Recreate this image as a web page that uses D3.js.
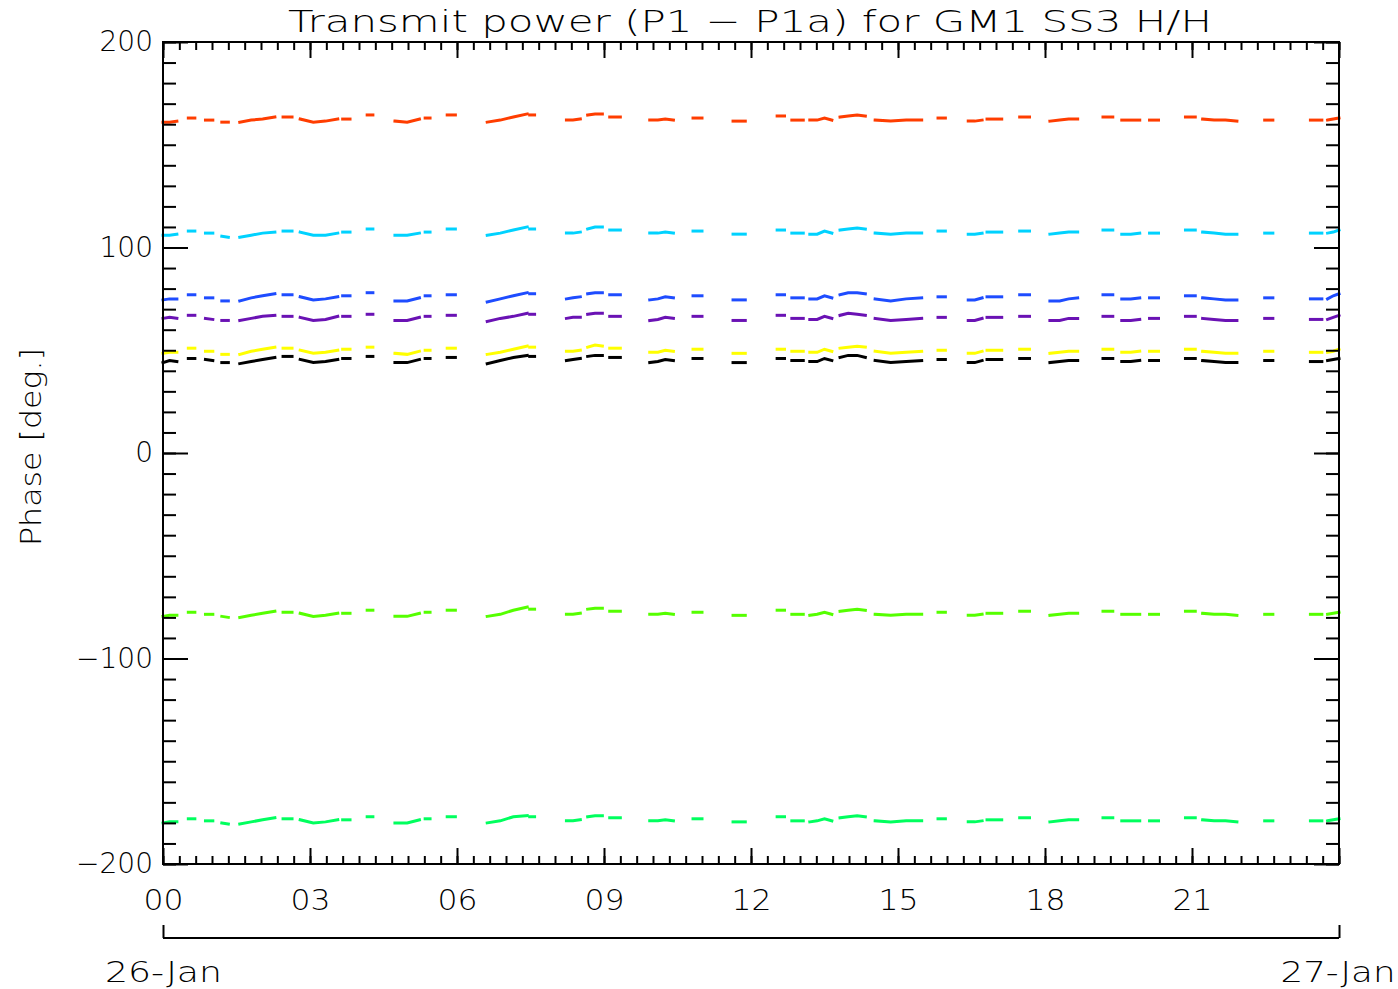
<!DOCTYPE html>
<html>
<head>
<meta charset="utf-8">
<script src="https://cdn.jsdelivr.net/npm/d3@7"></script>
<style>
  body { margin: 0; background: #fff; }
  text { font-family: "DejaVu Sans", sans-serif; fill: #000; }
</style>
</head>
<body>
<svg id="chart"></svg>
<script>
// ---- data ----
const chartTitle = "Transmit power (P1 \u2212 P1a) for GM1 SS3 H/H";
const yTitle = "Phase [deg.]";
const hourTicks = [0, 180, 360, 540, 720, 900, 1080, 1260];
const hourLabels = ["00", "03", "06", "09", "12", "15", "18", "21"];
const phaseTicks = [-200, -100, 0, 100, 200];
const phaseLabels = ["\u2212200", "\u2212100", "0", "100", "200"];
const dayLabels = ["26-Jan", "27-Jan"];

// minutes after 00:00, grouped in the stretches that have data
const sampleMinutes = [[0,8,17],[31,39],[52,61],[72,80],[94,108,122,137],[147,158],[168,184,199,214],[220,229],[250,257],[284,299,314],[321,327],[348,358],[397,413,429,446],[449,455],[494,502,511],[520,529,538],[547,560],[596,606,615,625],[649,660],[698,713],[752,761],[770,784],[792,801,810,819],[829,839,850,860],[872,891,910,929],[949,958],[986,994,1003],[1009,1018,1027],[1049,1061],[1086,1098,1109,1120],[1151,1163],[1174,1185,1196],[1208,1219],[1252,1264],[1273,1287,1301,1315],[1349,1359],[1405,1419],[1426,1433,1440]];

const redPhase = [[161,161,161.5],[163,163],[162,162],[161,161],[161,162,162.5,163.5],[163.5,163.5],[162.5,161,161.5,162.5],[162.5,162.5],[164.5,164.5],[161.5,161,162.5],[163,163],[164.5,164.5],[161,162,163.5,165],[164.5,164.5],[162,162,162.5],[164.5,165,165],[163.5,163.5],[162,162,162.5,162],[163,163],[161.5,161.5],[164,164],[162,162],[162,162,163,162],[163.5,164,164.5,164],[162,161.5,162,162],[163,163],[161.5,161.5,162],[162.5,162.5,162.5],[163.5,163.5],[161.5,162,162.5,162.5],[163.5,163.5],[162,162,162],[162,162],[163.5,163.5],[162.5,162,162,161.5],[162,162],[162,162],[162,162.5,163]];
const cyanPhase = [[106,106,106.5],[108,108],[107,107],[105.5,105],[105,106,107,107.5],[108,108],[107.5,106,106,107],[107.5,107.5],[109,109],[106,106,107],[107.5,107.5],[109,109],[106,107,108.5,110],[109,109],[107,107,107.5],[109,110,110],[108.5,108.5],[107,107,107.5,107],[108,108],[106.5,106.5],[108.5,108.5],[107,107],[106.5,106.5,108,107],[108.5,109,109.5,109],[107,106.5,107,107],[108,108],[106.5,106.5,107],[107.5,107.5,107.5],[108,108],[106.5,107,107.5,107.5],[108.5,108.5],[106.5,106.5,107],[107,107],[108.5,108.5],[107.5,107,106.5,106.5],[107,107],[107,107],[107,107.5,108.5]];
const bluePhase = [[74.5,75,75],[77,77],[75.5,75.5],[74,74],[74,75.5,76.5,77.5],[77,77],[76,74.5,75,76],[76.5,76.5],[78,78],[74,74,75.5],[76.5,76.5],[77,77],[73.5,75,76.5,78],[77.5,77.5],[75,75.5,76],[77.5,78,78],[77,77],[74.5,75,76,75.5],[76.5,76.5],[74.5,74.5],[77,77],[75.5,75.5],[75,75,76.5,75.5],[77,78,78,77.5],[75,74,75,75.5],[76,76],[74.5,74.5,75.5],[76,76,76],[77,77],[74,74,75,75.5],[77,77],[75,75,75.5],[75.5,75.5],[76.5,76.5],[75.5,75,74.5,74.5],[75.5,75.5],[75,75],[75,76.5,77.5]];
const purplePhase = [[65.5,66,65.5],[67,67],[65.5,65],[64.5,64.5],[64.5,65.5,66.5,67],[66.5,66.5],[66,64.5,65,66.5],[66.5,66.5],[67.5,67.5],[64.5,64.5,66],[66.5,66.5],[67,67],[64,65.5,66.5,68],[67.5,67.5],[65.5,66,66],[67.5,68,68],[66.5,66.5],[64.5,65,66,65.5],[66.5,66.5],[64.5,64.5],[67,67],[65.5,65.5],[65,65,66.5,65.5],[67,68,67.5,67],[65.5,64.5,65,65.5],[66,66],[64.5,64.5,65.5],[66,66,66],[66.5,66.5],[64.5,64.5,65.5,65.5],[66.5,66.5],[64.5,64.5,65],[65.5,65.5],[66.5,66.5],[65.5,65,64.5,64.5],[65.5,65.5],[65,65],[65,66,67]];
const yellowPhase = [[48.5,49,49],[51,51],[49.5,49.5],[48,48],[48,49.5,50.5,51.5],[51,51],[50,48.5,49,50],[50.5,50.5],[51.5,51.5],[48.5,48,49.5],[50,50],[51,51],[48,49,50.5,52],[51.5,51.5],[49.5,49.5,50],[51.5,52.5,52],[51,51],[49,49,50,49.5],[50.5,50.5],[48.5,48.5],[50.5,50.5],[49.5,49.5],[49,49,50.5,49.5],[51,51.5,52,51.5],[49.5,48.5,49,49.5],[50,50],[48.5,48.5,49.5],[50,50,50],[50.5,50.5],[48.5,49,49.5,49.5],[50.5,50.5],[49,49,49.5],[49.5,49.5],[50.5,50.5],[49.5,49,48.5,48.5],[49.5,49.5],[49,49],[49,49.5,50.5]];
const blackPhase = [[44,45,44.5],[46,46],[45.5,45],[44,44],[43.5,44.5,45.5,46.5],[47,47],[45.5,44,44.5,45.5],[46,46],[47,47],[44,44,45.5],[46,46],[46.5,46.5],[43.5,45,46.5,47.5],[47,47],[45,45.5,46],[47,47.5,47.5],[46.5,46.5],[44,44.5,45.5,45],[46,46],[44,44],[46,46],[45,45],[44.5,44.5,46,45],[46.5,47.5,47.5,46.5],[45,44,44.5,45],[45.5,45.5],[44,44,45],[45.5,45.5,45.5],[46,46],[44,44.5,45,45],[46,46],[44.5,44.5,45],[45,45],[46,46],[45,44.5,44,44],[45,45],[44.5,44.5],[45,45.5,46]];
const limePhase = [[-79.5,-79,-79],[-77.5,-77.5],[-78.5,-78.5],[-79.5,-80],[-80,-79,-78,-77],[-77.5,-77.5],[-78,-79.5,-79,-78],[-78,-78],[-76.5,-76.5],[-79.5,-79.5,-78],[-77.5,-77.5],[-76.5,-76.5],[-79.5,-78.5,-76.5,-75],[-76,-76],[-78.5,-78.5,-78],[-76,-75.5,-75.5],[-77,-77],[-78.5,-78.5,-78,-78.5],[-77.5,-77.5],[-79,-79],[-76.5,-76.5],[-78.5,-78.5],[-79,-78.5,-77.5,-78.5],[-77,-76.5,-76,-76.5],[-78.5,-79,-78.5,-78.5],[-77.5,-77.5],[-79,-79,-78.5],[-78,-78,-78],[-77,-77],[-79,-78.5,-78,-78],[-77,-77],[-78.5,-78.5,-78.5],[-78.5,-78.5],[-77,-77],[-78,-78.5,-78.5,-79],[-78.5,-78.5],[-78.5,-78.5],[-78.5,-78,-77.5]];
const springPhase = [[-180,-179.5,-179.5],[-178,-178],[-179,-179],[-180,-180.5],[-180.5,-179.5,-178.5,-177.5],[-178,-178],[-178.5,-180,-179.5,-178.5],[-178.5,-178.5],[-177,-177],[-180,-180,-178.5],[-178,-178],[-177,-177],[-180,-179,-177,-176.5],[-177,-177],[-179,-179,-178.5],[-177,-176.5,-176.5],[-177.5,-177.5],[-179,-179,-178.5,-179],[-178,-178],[-179.5,-179.5],[-177,-177],[-179,-179],[-179.5,-179,-178,-179],[-177.5,-177,-176.5,-177],[-179,-179.5,-179,-179],[-178,-178],[-179.5,-179.5,-179],[-178.5,-178.5,-178.5],[-177.5,-177.5],[-179.5,-179,-178.5,-178.5],[-177.5,-177.5],[-179,-179,-179],[-179,-179],[-177.5,-177.5],[-178.5,-179,-179,-179.5],[-179,-179],[-179,-179],[-179,-178.5,-178]];

const seriesList = [
  { color: "#ff3d00", values: redPhase },
  { color: "#00d2ff", values: cyanPhase },
  { color: "#1e4cff", values: bluePhase },
  { color: "#6a12b4", values: purplePhase },
  { color: "#ffff00", values: yellowPhase },
  { color: "#000000", values: blackPhase },
  { color: "#55ff00", values: limePhase },
  { color: "#00ff5e", values: springPhase }
];

// ---- layout ----
const width = 1398, height = 989;
const margin = { top: 42, right: 59, bottom: 125, left: 163 };
const innerW = width - margin.left - margin.right;
const innerH = height - margin.top - margin.bottom;
const labelFont = 28;

const svg = d3.select("#chart").attr("width", width).attr("height", height);

const xScale = d3.scaleLinear().domain([0, 1440]).range([margin.left, margin.left + innerW]);
const yScale = d3.scaleLinear().domain([-200, 200]).range([margin.top + innerH, margin.top]);

// title, stretched to the width it has in the original
svg.append("text")
  .attr("x", 288).attr("y", 32)
  .attr("font-size", 31)
  .attr("font-weight", 300)
  .attr("textLength", 924).attr("lengthAdjust", "spacingAndGlyphs")
  .text(chartTitle);

// data
const line = d3.line().x(d => xScale(d[0])).y(d => yScale(d[1]));
const marks = svg.append("g").attr("class", "series");
seriesList.forEach(s => {
  sampleMinutes.forEach((seg, i) => {
    const pts = seg.map((m, j) => [m, s.values[i][j]]);
    marks.append("path")
      .attr("d", line(pts))
      .attr("fill", "none")
      .attr("stroke", s.color)
      .attr("stroke-width", 3)
      .attr("stroke-linecap", "square")
      .attr("stroke-linejoin", "miter");
  });
});

// axes helpers
const minorHours = d3.range(0, 1441, 20);
const minorPhase = d3.range(-200, 201, 10);
function styleAxis(g) {
  g.select(".domain").remove();
  g.selectAll("line").attr("stroke", "#000").attr("stroke-width", 2);
  g.selectAll("text").attr("font-size", labelFont).attr("font-weight", 300)
    .attr("font-family", "DejaVu Sans").attr("fill", "#000");
}

const bottomY = margin.top + innerH, topY = margin.top;
const leftX = margin.left, rightX = margin.left + innerW;

// bottom
svg.append("g").attr("transform", `translate(0,${bottomY})`)
  .call(d3.axisBottom(xScale).tickValues(minorHours).tickSize(-8).tickFormat(""))
  .call(styleAxis);
svg.append("g").attr("transform", `translate(0,${bottomY})`)
  .call(d3.axisBottom(xScale).tickValues(hourTicks.concat([1440])).tickSize(-16).tickFormat(""))
  .call(styleAxis);
svg.append("g").attr("transform", `translate(0,${bottomY})`)
  .call(d3.axisBottom(xScale).tickValues(hourTicks).tickSize(0).tickPadding(26)
    .tickFormat((d, i) => hourLabels[i]))
  .call(styleAxis)
  .call(g => g.selectAll("text").attr("textLength", 40).attr("lengthAdjust", "spacingAndGlyphs"));
// top
svg.append("g").attr("transform", `translate(0,${topY})`)
  .call(d3.axisTop(xScale).tickValues(minorHours).tickSize(-8).tickFormat(""))
  .call(styleAxis);
svg.append("g").attr("transform", `translate(0,${topY})`)
  .call(d3.axisTop(xScale).tickValues(hourTicks.concat([1440])).tickSize(-16).tickFormat(""))
  .call(styleAxis);
// left
svg.append("g").attr("transform", `translate(${leftX},0)`)
  .call(d3.axisLeft(yScale).tickValues(minorPhase).tickSize(-13).tickFormat(""))
  .call(styleAxis);
svg.append("g").attr("transform", `translate(${leftX},0)`)
  .call(d3.axisLeft(yScale).tickValues(phaseTicks).tickSize(-25).tickFormat(""))
  .call(styleAxis);
svg.append("g").attr("transform", `translate(${leftX},0)`)
  .call(d3.axisLeft(yScale).tickValues(phaseTicks).tickSize(0).tickPadding(10)
    .tickFormat((d, i) => phaseLabels[i]))
  .call(styleAxis);
// right
svg.append("g").attr("transform", `translate(${rightX},0)`)
  .call(d3.axisRight(yScale).tickValues(minorPhase).tickSize(-13).tickFormat(""))
  .call(styleAxis);
svg.append("g").attr("transform", `translate(${rightX},0)`)
  .call(d3.axisRight(yScale).tickValues(phaseTicks).tickSize(-25).tickFormat(""))
  .call(styleAxis);

// frame
svg.append("rect")
  .attr("x", leftX).attr("y", topY)
  .attr("width", innerW).attr("height", innerH)
  .attr("fill", "none").attr("stroke", "#000").attr("stroke-width", 2);

// y title
svg.append("text")
  .attr("transform", `translate(41,${yScale(0) - 6}) rotate(-90)`)
  .attr("text-anchor", "middle")
  .attr("font-size", labelFont)
  .attr("font-weight", 300)
  .attr("textLength", 198).attr("lengthAdjust", "spacingAndGlyphs")
  .text(yTitle);

// day axis underneath
const dayY = 938;
const dayAxis = svg.append("g").attr("transform", `translate(0,${dayY})`);
dayAxis.call(d3.axisBottom(xScale).tickValues([0, 1440]).tickSize(-13).tickPadding(24)
  .tickFormat((d, i) => dayLabels[i]));
dayAxis.select(".domain").attr("stroke", "#000").attr("stroke-width", 2).attr("d", `M${leftX},0H${rightX}`);
dayAxis.selectAll("line").attr("stroke", "#000").attr("stroke-width", 2);
dayAxis.selectAll("text").attr("font-size", labelFont).attr("font-weight", 300)
  .attr("font-family", "DejaVu Sans").attr("fill", "#000");
dayAxis.selectAll(".tick text").filter((d, i) => i === 0)
  .attr("textLength", 117).attr("lengthAdjust", "spacingAndGlyphs");
dayAxis.selectAll(".tick text").filter((d, i) => i === 1)
  .attr("text-anchor", "end").attr("x", width - 1339 - 3)
  .attr("textLength", 115).attr("lengthAdjust", "spacingAndGlyphs");
</script>
</body>
</html>
